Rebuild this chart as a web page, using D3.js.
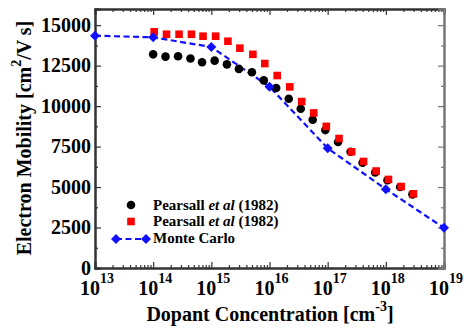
<!DOCTYPE html>
<html>
<head>
<meta charset="utf-8">
<script src="https://cdn.jsdelivr.net/npm/d3@7"></script>
<style>
  html, body { margin: 0; padding: 0; background: #fff; }
  svg { display: block; font-family: "Liberation Serif", "Times New Roman", serif; font-weight: bold; }
</style>
</head>
<body>
<svg id="chart" width="467" height="332"></svg>
<script>
// ---- data ----
const pearsallLog = [14.000, 14.212, 14.428, 14.641, 14.840, 15.057, 15.268, 15.474, 15.697, 15.902,
  16.115, 16.331, 16.537, 16.743, 16.960, 17.178, 17.394, 17.600, 17.817, 18.028, 18.246, 18.457];
const pearsallA = [13200, 13060, 13080, 12940, 12710, 12810, 12580, 12300, 12090, 11590,
  11120, 10460, 9840, 9160, 8520, 7780, 7180, 6500, 5900, 5420, 5000, 4550];
const pearsallB = [14590, 14440, 14440, 14440, 14320, 14320, 14010, 13580, 13200, 12630,
  11890, 11190, 10280, 9580, 8750, 8000, 7180, 6580, 5990, 5470, 5030, 4580];
const mcLog = [13, 14, 15, 16, 17, 18, 19];
const mcVal = [14350, 14250, 13650, 11200, 7400, 4870, 2480];
const yTicks = [0, 2500, 5000, 7500, 10000, 12500, 15000];
const xDecades = [13, 14, 15, 16, 17, 18, 19];
const legendLabels = ["Pearsall", "Pearsall", "Monte Carlo"];

const svg = d3.select("#chart");
const L = 95, R = 444, T = 9, B = 268;
const x = d3.scaleLog().domain([1e13, 1e19]).range([L, R]);
const y = d3.scaleLinear().domain([0, 16000]).range([B, T]);

const axisColor = "#333";
const rightColor = "#777";

// minor ticks
const xMinor = [];
for (let d = 13; d < 19; d++) for (let m = 2; m <= 9; m++) xMinor.push(m * Math.pow(10, d));
const xMajor = xDecades.map(d => Math.pow(10, d));
const yMinor = d3.range(1250, 16000, 2500);

const g = svg.append("g");

const axBottom = d3.axisBottom(x).tickValues(xMajor).tickSize(-6).tickFormat("");
const axBottomMinor = d3.axisBottom(x).tickValues(xMinor).tickSize(-3).tickFormat("");
const axTop = d3.axisTop(x).tickValues(xMajor).tickSize(-6).tickFormat("");
const axTopMinor = d3.axisTop(x).tickValues(xMinor).tickSize(-3).tickFormat("");
const axLeft = d3.axisLeft(y).tickValues(yTicks).tickSize(-6).tickFormat("");
const axLeftMinor = d3.axisLeft(y).tickValues(yMinor).tickSize(-3).tickFormat("");
const axRight = d3.axisRight(y).tickValues(yTicks).tickSize(-6).tickFormat("");
const axRightMinor = d3.axisRight(y).tickValues(yMinor).tickSize(-3).tickFormat("");

function styleAxis(sel, color, w) {
  sel.selectAll("path.domain").attr("stroke", color).attr("stroke-width", w).attr("fill", "none");
  sel.selectAll(".tick line").attr("stroke", color).attr("stroke-width", 1.2);
}
styleAxis(g.append("g").attr("transform", `translate(0,${B})`).call(axBottomMinor), axisColor, 2);
styleAxis(g.append("g").attr("transform", `translate(0,${B})`).call(axBottom), axisColor, 2);
styleAxis(g.append("g").attr("transform", `translate(0,${T})`).call(axTopMinor), axisColor, 2);
styleAxis(g.append("g").attr("transform", `translate(0,${T})`).call(axTop), axisColor, 2);
styleAxis(g.append("g").attr("transform", `translate(${L},0)`).call(axLeftMinor), axisColor, 2);
styleAxis(g.append("g").attr("transform", `translate(${L},0)`).call(axLeft), axisColor, 2);
styleAxis(g.append("g").attr("transform", `translate(${R},0)`).call(axRightMinor), rightColor, 2);
styleAxis(g.append("g").attr("transform", `translate(${R},0)`).call(axRight), rightColor, 2);

// y tick labels
svg.append("g").selectAll("text").data(yTicks).join("text")
  .attr("x", L - 4).attr("y", d => y(d)).attr("dy", "0.34em")
  .attr("text-anchor", "end").attr("font-size", 20).attr("fill", "#000")
  .text(d => d);

// x tick labels
const xl = svg.append("g").selectAll("text").data(xDecades).join("text")
  .attr("x", d => x(Math.pow(10, d)) + 2).attr("y", 295)
  .attr("text-anchor", "middle").attr("font-size", 20).attr("fill", "#000");
xl.append("tspan").text("10");
xl.append("tspan").attr("dy", -12).attr("font-size", 14).text(d => d);

// axis titles
const xt = svg.append("text").attr("x", 270).attr("y", 321).attr("text-anchor", "middle")
  .attr("font-size", 20).attr("fill", "#000");
xt.append("tspan").text("Dopant Concentration [cm");
xt.append("tspan").attr("dy", -10).attr("font-size", 14).text("-3");
xt.append("tspan").attr("dy", 10).text("]");

const yt = svg.append("text").attr("transform", "translate(31,138) rotate(-90)")
  .attr("text-anchor", "middle").attr("font-size", 20).attr("fill", "#000");
yt.append("tspan").text("Electron Mobility [cm");
yt.append("tspan").attr("dy", -10).attr("font-size", 14).text("2");
yt.append("tspan").attr("dy", 10).text("/V s]");

// data marks
const plot = svg.append("g");
const mcPts = mcLog.map((d, i) => [Math.pow(10, d), mcVal[i]]);
plot.append("path").datum(mcPts)
  .attr("d", d3.line().x(d => x(d[0])).y(d => y(d[1])))
  .attr("fill", "none").attr("stroke", "#1010ff").attr("stroke-width", 2.2)
  .attr("stroke-dasharray", "6,3.5");

plot.selectAll("circle.pa").data(pearsallLog.map((d, i) => [Math.pow(10, d), pearsallA[i]])).join("circle")
  .attr("class", "pa").attr("cx", d => x(d[0])).attr("cy", d => y(d[1])).attr("r", 4.3).attr("fill", "#000");

const sq = 7.6;
plot.selectAll("rect.pb").data(pearsallLog.map((d, i) => [Math.pow(10, d), pearsallB[i]])).join("rect")
  .attr("class", "pb").attr("x", d => x(d[0]) + 1 - sq / 2).attr("y", d => y(d[1]) - sq / 2)
  .attr("width", sq).attr("height", sq).attr("fill", "#ff0000");

const diamond = d3.symbol().type(d3.symbolSquare).size(50);
plot.selectAll("path.mc").data(mcPts).join("path")
  .attr("class", "mc").attr("d", diamond)
  .attr("transform", d => `translate(${x(d[0])},${y(d[1])}) rotate(45)`)
  .attr("fill", "#1010ff");

// legend
const lg = svg.append("g");
lg.append("circle").attr("cx", 131).attr("cy", 205).attr("r", 4.3).attr("fill", "#000");
lg.append("rect").attr("x", 131 - sq / 2).attr("y", 221.5 - sq / 2).attr("width", sq).attr("height", sq).attr("fill", "#ff0000");
lg.append("line").attr("x1", 116).attr("x2", 146).attr("y1", 239).attr("y2", 239)
  .attr("stroke", "#1010ff").attr("stroke-width", 2.2).attr("stroke-dasharray", "6,3.5");
[116, 146].forEach(px => lg.append("path").attr("d", diamond)
  .attr("transform", `translate(${px},239) rotate(45)`).attr("fill", "#1010ff"));

const ly = [209.5, 226, 243.3];
legendLabels.forEach((lab, i) => {
  const t = lg.append("text").attr("x", 153).attr("y", ly[i]).attr("font-size", 15).attr("fill", "#000");
  t.append("tspan").text(lab);
  if (i < 2) {
    t.append("tspan").attr("font-style", "italic").text(" et al");
    t.append("tspan").text(" (1982)");
  }
});
</script>
</body>
</html>
